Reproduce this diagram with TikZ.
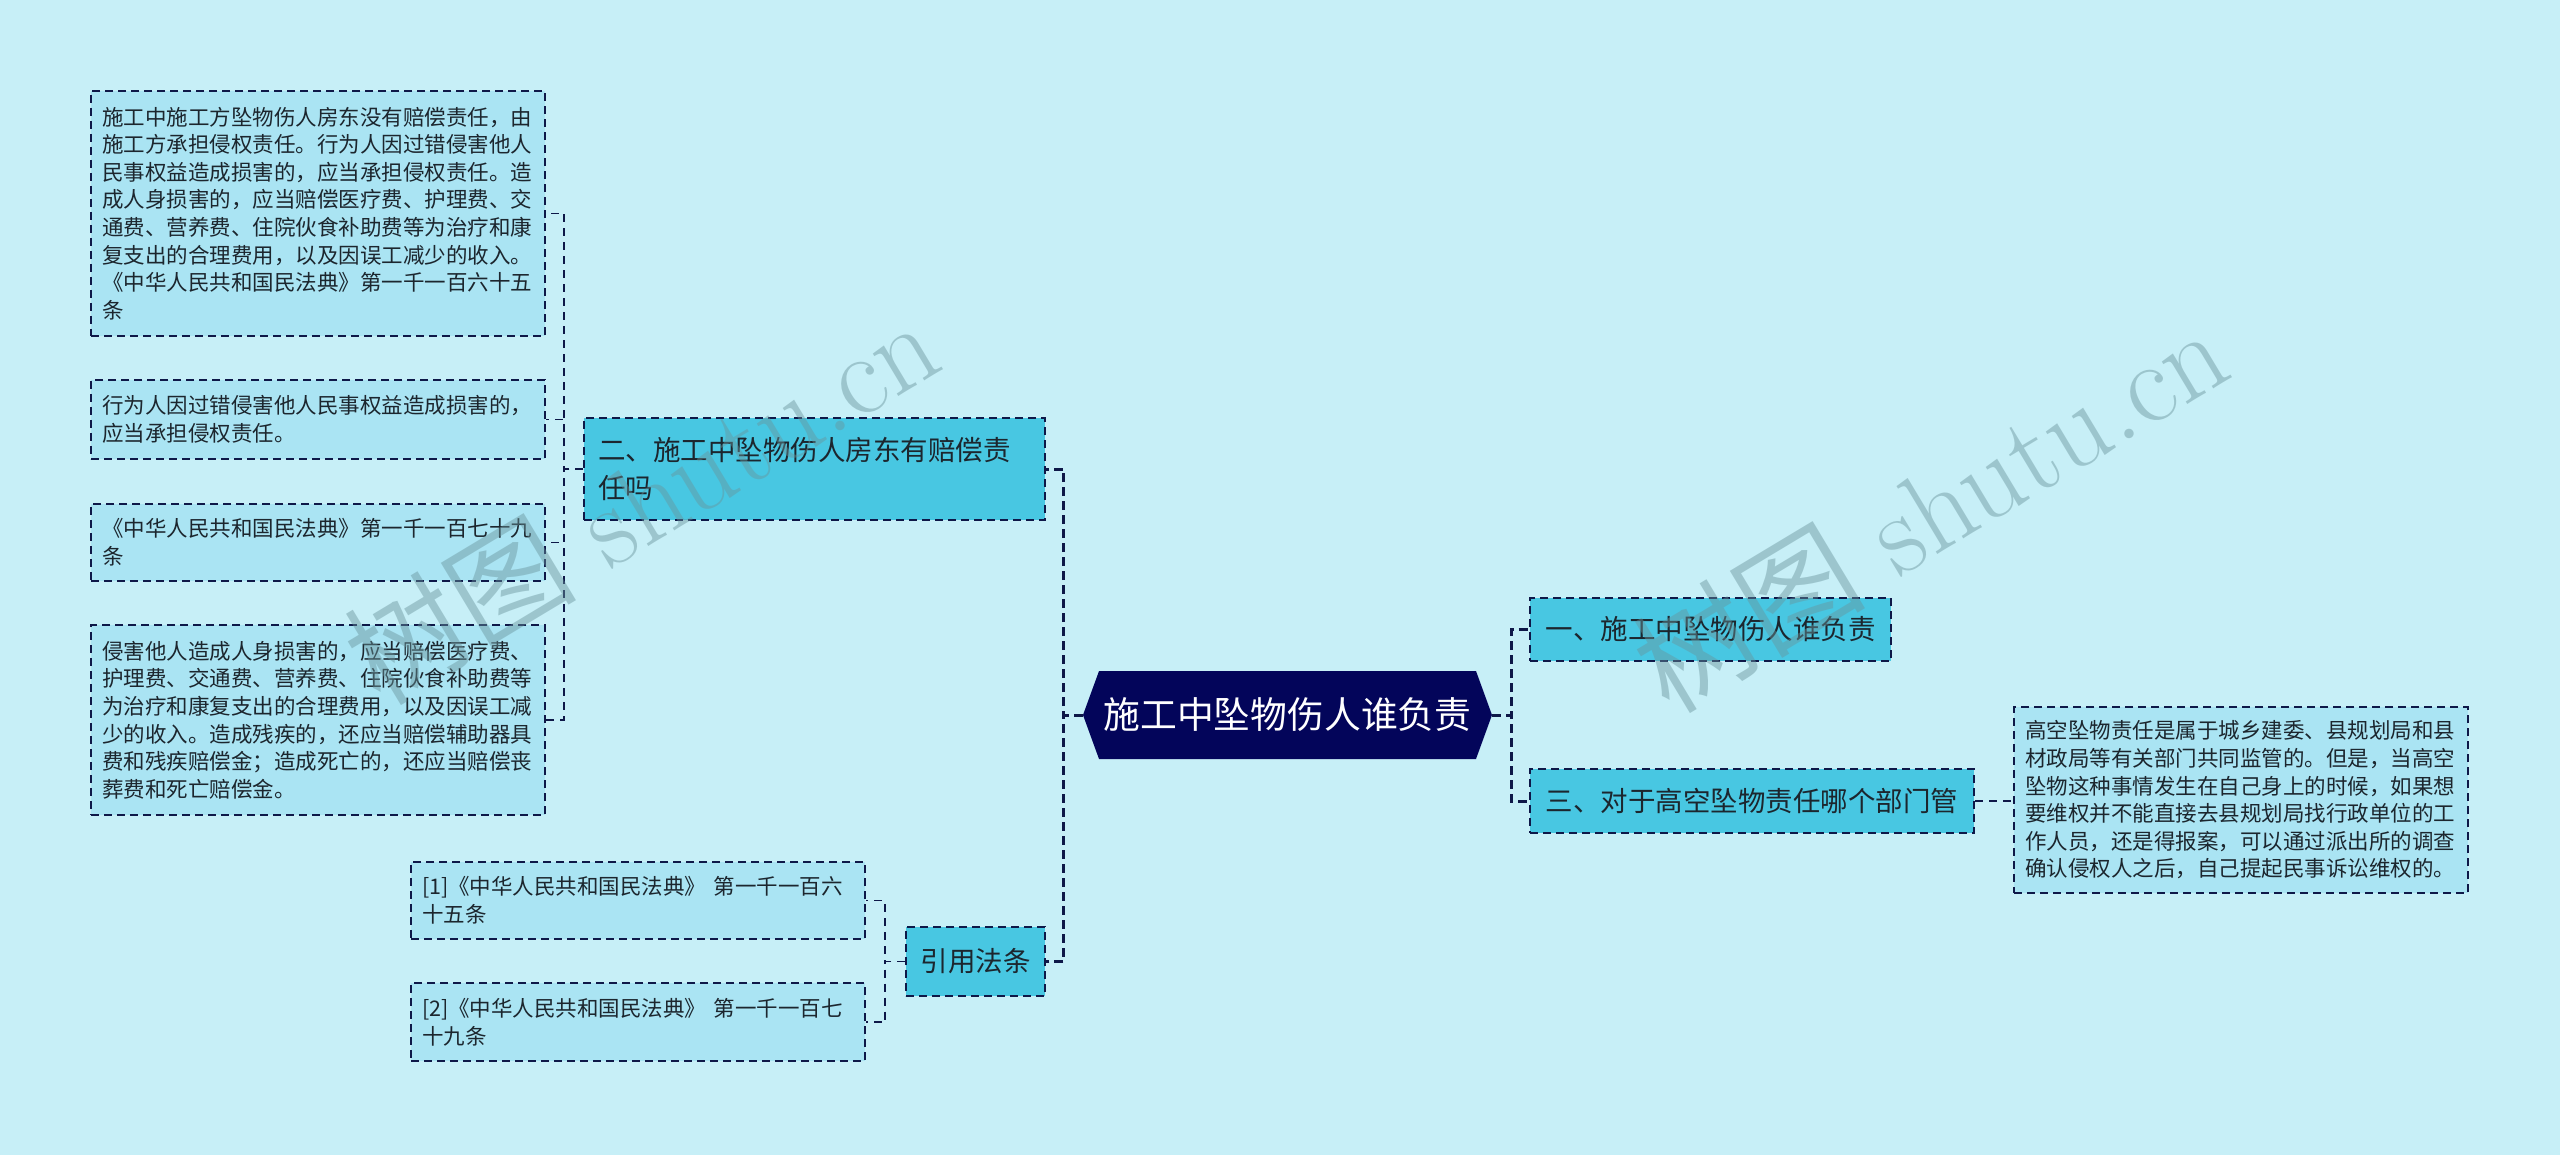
\documentclass[tikz,border=0pt]{standalone}
\usepackage{fontspec}
\usepackage{tikz}
\usetikzlibrary{shapes.symbols}
\newfontfamily\cjk{Noto Sans CJK SC}
\definecolor{bgc}{RGB}{199,239,247}
\definecolor{midc}{RGB}{72,199,226}
\definecolor{leafc}{RGB}{170,228,243}
\definecolor{rootc}{RGB}{3,5,90}
\definecolor{linec}{RGB}{14,24,72}
\definecolor{txtc}{RGB}{28,38,46}
\definecolor{wmc}{RGB}{105,148,156}

\begin{document}
\begin{tikzpicture}[x=1pt,y=-1pt,
    root/.style={signal,signal to=west and east,signal pointer angle=140,fill=rootc,text=white,
      minimum width=409pt,minimum height=88pt,inner sep=0pt,font={\cjk\fontsize{36.8pt}{44pt}\selectfont}},
    mid/.style={draw=linec,line width=2pt,dash pattern=on 8pt off 5pt,fill=midc,text=txtc,
      inner xsep=14pt,inner ysep=0pt,font={\cjk\fontsize{27.5pt}{38pt}\selectfont}},
    leaf/.style={draw=linec,line width=1.8pt,dash pattern=on 8pt off 5pt,fill=leafc,text=txtc,
      text width=432pt,align=left,minimum width=454pt,inner xsep=11pt,inner ysep=0pt,
      font={\cjk\fontsize{21.5pt}{27.6pt}\selectfont}},
    link/.style={draw=linec,line width=3pt,dash pattern=on 9pt off 5pt},
    sublink/.style={draw=linec,line width=1.8pt,dash pattern=on 8pt off 6pt},
    wmark/.style={text=wmc,opacity=0.45,font={\fontsize{116pt}{120pt}\selectfont}}]
\fill[bgc] (0,0) rectangle (2560,1155);
\useasboundingbox (0,0) rectangle (2560,1155);

\node[root] (c) at (1287.5,715) {施工中坠物伤人谁负责};

\node[mid,minimum width=361pt,minimum height=63pt] (b1) at (1710.5,629.5) {一、施工中坠物伤人谁负责};
\node[mid,text width=433pt,align=left,minimum height=102pt] (b2) at (814.5,469)
  {二、施工中坠物伤人房东有赔偿责\\任吗};
\node[mid,minimum width=444pt,minimum height=64pt] (b3) at (1752,801) {三、对于高空坠物责任哪个部门管};
\node[mid,minimum width=139pt,minimum height=69pt] (b4) at (975.5,961.5) {引用法条};

\node[leaf,minimum height=245pt] (l21) at (318,213.5)
  {施工中施工方坠物伤人房东没有赔偿责任，由\\施工方承担侵权责任。行为人因过错侵害他人\\民事权益造成损害的，应当承担侵权责任。造\\成人身损害的，应当赔偿医疗费、护理费、交\\通费、营养费、住院伙食补助费等为治疗和康\\复支出的合理费用，以及因误工减少的收入。\\《中华人民共和国民法典》第一千一百六十五\\条};
\node[leaf,minimum height=79pt] (l22) at (318,419.5)
  {行为人因过错侵害他人民事权益造成损害的，\\应当承担侵权责任。};
\node[leaf,minimum height=77pt] (l23) at (318,542.5)
  {《中华人民共和国民法典》第一千一百七十九\\条};
\node[leaf,minimum height=190pt] (l24) at (318,720)
  {侵害他人造成人身损害的，应当赔偿医疗费、\\护理费、交通费、营养费、住院伙食补助费等\\为治疗和康复支出的合理费用，以及因误工减\\少的收入。造成残疾的，还应当赔偿辅助器具\\费和残疾赔偿金；造成死亡的，还应当赔偿丧\\葬费和死亡赔偿金。};
\node[leaf,minimum height=186pt] (l31) at (2241,800)
  {高空坠物责任是属于城乡建委、县规划局和县\\材政局等有关部门共同监管的。但是，当高空\\坠物这种事情发生在自己身上的时候，如果想\\要维权并不能直接去县规划局找行政单位的工\\作人员，还是得报案，可以通过派出所的调查\\确认侵权人之后，自己提起民事诉讼维权的。};
\node[leaf,minimum height=77pt] (l41) at (638,900.5)
  {[1]《中华人民共和国民法典》 第一千一百六\\十五条};
\node[leaf,minimum height=78pt] (l42) at (638,1022)
  {[2]《中华人民共和国民法典》 第一千一百七\\十九条};

\draw[link] (c.west) -- ++(-19,0) |- (b2.east);
\draw[link] (c.west) -- ++(-19,0) |- (b4.east);
\draw[link] (c.east) -- ++(19,0) |- (b1.west);
\draw[link] (c.east) -- ++(19,0) |- (b3.west);
\draw[sublink] (b3.east) -- (l31.west |- b3.east);
\foreach \k in {l21,l22,l23,l24}
  \draw[sublink] (b2.west) -- ++(-19,0) |- (\k.east);
\foreach \k in {l41,l42}
  \draw[sublink] (b4.west) -- ++(-20,0) |- (\k.east);

\node[wmark,rotate=31] (w1) at (641,500) {{\cjk 树图} shutu.cn};
\node[wmark,rotate=31] (w2) at (1930,508) {{\cjk 树图} shutu.cn};
\end{tikzpicture}
\end{document}
